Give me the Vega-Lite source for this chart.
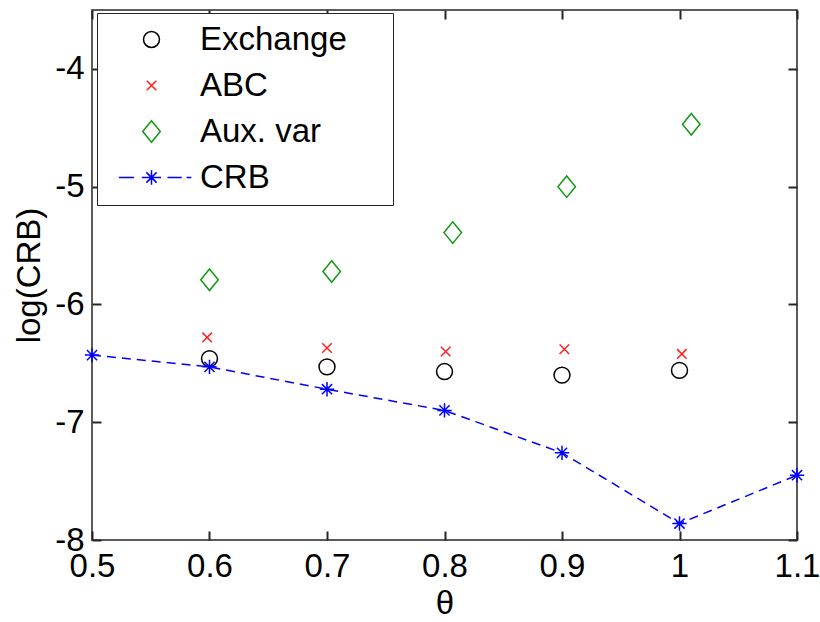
{
  "$schema": "https://vega.github.io/schema/vega-lite/v6.json",
  "width": 705,
  "height": 530,
  "autosize": {"type": "none"},
  "padding": {"left": 92, "top": 10, "right": 23, "bottom": 82},
  "background": "white",
  "config": {
    "view": {"stroke": "#262626", "strokeWidth": 1.5},
    "font": "Liberation Sans",
    "axis": {
      "grid": false,
      "domain": false,
      "ticks": true,
      "tickSize": 9,
      "offset": -9,
      "tickColor": "#262626",
      "tickWidth": 2,
      "labelFlush": false,
      "labelOverlap": false,
      "labelFont": "Liberation Sans",
      "labelFontSize": 33,
      "labelColor": "black",
      "titleFont": "Liberation Sans",
      "titleFontSize": 33,
      "titleFontWeight": "normal",
      "titleColor": "black"
    }
  },
  "datasets": {
    "pts": [
      {"series": "Exchange", "theta": 0.6, "logCRB": -6.46},
      {"series": "Exchange", "theta": 0.7, "logCRB": -6.53},
      {"series": "Exchange", "theta": 0.8, "logCRB": -6.57},
      {"series": "Exchange", "theta": 0.9, "logCRB": -6.60},
      {"series": "Exchange", "theta": 1.0, "logCRB": -6.56},
      {"series": "ABC", "theta": 0.598, "logCRB": -6.28},
      {"series": "ABC", "theta": 0.7, "logCRB": -6.37},
      {"series": "ABC", "theta": 0.801, "logCRB": -6.40},
      {"series": "ABC", "theta": 0.902, "logCRB": -6.38},
      {"series": "ABC", "theta": 1.002, "logCRB": -6.42},
      {"series": "Aux. var", "theta": 0.6, "logCRB": -5.79},
      {"series": "Aux. var", "theta": 0.704, "logCRB": -5.72},
      {"series": "Aux. var", "theta": 0.807, "logCRB": -5.39},
      {"series": "Aux. var", "theta": 0.904, "logCRB": -5.00},
      {"series": "Aux. var", "theta": 1.01, "logCRB": -4.47},
      {"series": "CRB", "theta": 0.5, "logCRB": -6.43},
      {"series": "CRB", "theta": 0.6, "logCRB": -6.53},
      {"series": "CRB", "theta": 0.7, "logCRB": -6.72},
      {"series": "CRB", "theta": 0.8, "logCRB": -6.90},
      {"series": "CRB", "theta": 0.9, "logCRB": -7.26},
      {"series": "CRB", "theta": 1.0, "logCRB": -7.86},
      {"series": "CRB", "theta": 1.1, "logCRB": -7.45}
    ]
  },
  "data": {"name": "pts"},
  "layer": [
    {
      "transform": [{"filter": "datum.series != 'CRB'"}],
      "mark": {"type": "point", "filled": false, "strokeWidth": 1.5, "size": 254, "opacity": 1},
      "encoding": {
        "x": {
          "field": "theta", "type": "quantitative",
          "scale": {"domain": [0.5, 1.1], "nice": false, "zero": false},
          "axis": {"values": [0.5, 0.6, 0.7, 0.8, 0.9, 1, 1.1], "labelExpr": "'' + datum.value", "labelPadding": 10, "title": "θ", "titlePadding": 4}
        },
        "y": {
          "field": "logCRB", "type": "quantitative",
          "scale": {"domain": [-8, -3.5], "nice": false, "zero": false},
          "axis": {"values": [-8, -7, -6, -5, -4], "labelExpr": "'' + datum.value", "labelPadding": 8, "title": "log(CRB)", "titlePadding": 8}
        },
        "shape": {
          "field": "series", "type": "nominal",
          "scale": {
            "domain": ["Exchange", "ABC", "Aux. var", "CRB"],
            "range": [
              "circle",
              "M-0.6,-0.6L0.6,0.6M-0.6,0.6L0.6,-0.6",
              "M0,-1.35L1.1,0L0,1.35L-1.1,0Z",
              "M-4.1,0L-2.2,0M-1.2,0L1.2,0M2.0,0L3.8,0M4.4,0L5,0M0,-0.9L0,0.9M-0.64,-0.64L0.64,0.64M-0.64,0.64L0.64,-0.64"
            ]
          },
          "legend": {
            "orient": "none", "legendX": 5, "legendY": 3,
            "strokeColor": "#262626", "fillColor": "white", "padding": 10,
            "labelFont": "Liberation Sans", "labelFontSize": 33, "labelColor": "black",
            "symbolSize": 254, "symbolStrokeWidth": 1.5, "symbolOffset": 28, "labelOffset": 32, "rowPadding": 12,
            "title": " ", "titleOrient": "right", "titlePadding": 36, "titleFontSize": 10
          }
        },
        "color": {
          "field": "series", "type": "nominal",
          "scale": {"domain": ["Exchange", "ABC", "Aux. var", "CRB"], "range": ["#000000", "#ff2020", "#109a10", "#0000ff"]},
          "legend": {
            "orient": "none", "legendX": 5, "legendY": 3,
            "strokeColor": "#262626", "fillColor": "white", "padding": 10,
            "labelFont": "Liberation Sans", "labelFontSize": 33, "labelColor": "black",
            "symbolSize": 254, "symbolStrokeWidth": 1.5, "symbolOffset": 28, "labelOffset": 32, "rowPadding": 12,
            "title": " ", "titleOrient": "right", "titlePadding": 36, "titleFontSize": 10
          }
        }
      }
    },
    {
      "transform": [{"filter": "datum.series == 'CRB'"}],
      "mark": {"type": "line", "color": "#0000ff", "strokeDash": [9, 6], "strokeWidth": 1.5},
      "encoding": {
        "x": {
          "field": "theta", "type": "quantitative",
          "scale": {"domain": [0.5, 1.1], "nice": false, "zero": false},
          "axis": {"orient": "top", "values": [0.5, 0.6, 0.7, 0.8, 0.9, 1, 1.1], "labels": false, "title": null}
        },
        "y": {
          "field": "logCRB", "type": "quantitative",
          "scale": {"domain": [-8, -3.5], "nice": false, "zero": false},
          "axis": {"orient": "right", "values": [-8, -7, -6, -5, -4], "labels": false, "title": null}
        }
      }
    },
    {
      "transform": [{"filter": "datum.series == 'CRB'"}],
      "mark": {
        "type": "point", "filled": false, "color": "#0000ff", "size": 254, "strokeWidth": 1.5, "opacity": 1,
        "shape": "M-0.9,0L0.9,0M0,-0.9L0,0.9M-0.64,-0.64L0.64,0.64M-0.64,0.64L0.64,-0.64"
      },
      "encoding": {
        "x": {"field": "theta", "type": "quantitative", "axis": null},
        "y": {"field": "logCRB", "type": "quantitative", "axis": null}
      }
    }
  ],
  "resolve": {"axis": {"x": "independent", "y": "independent"}}
}
